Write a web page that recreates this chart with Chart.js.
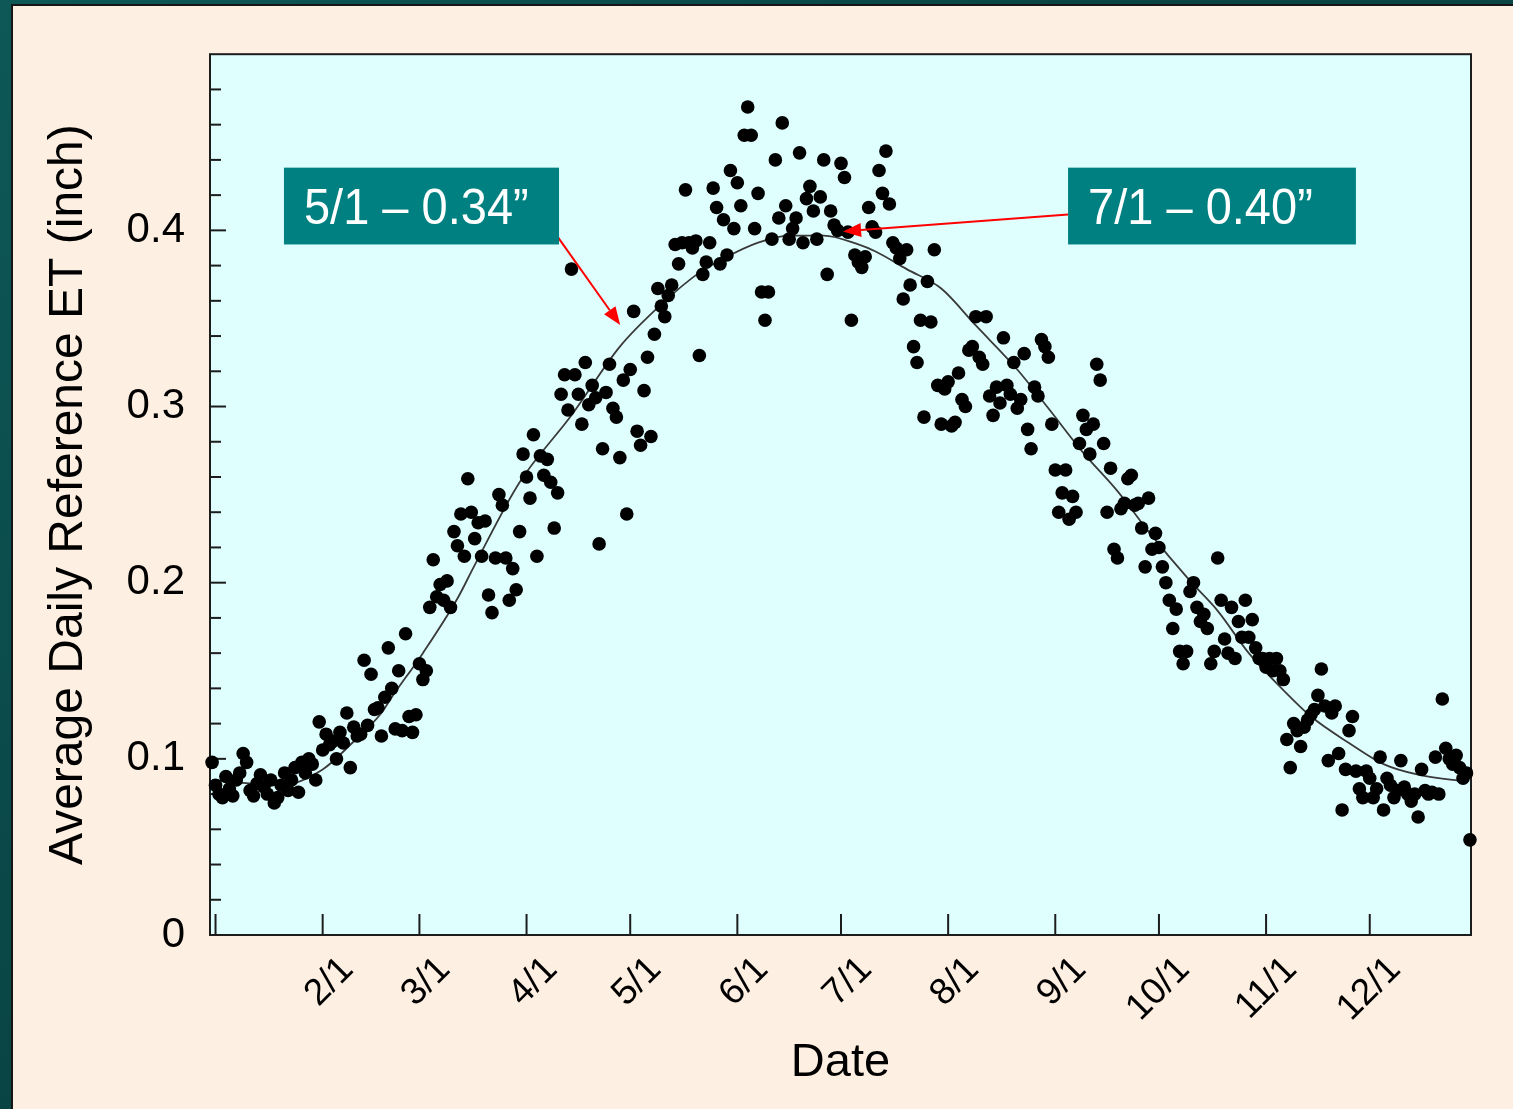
<!DOCTYPE html>
<html><head><meta charset="utf-8">
<script src="https://cdn.jsdelivr.net/npm/chart.js@4.4.1/dist/chart.umd.min.js"></script>
<style>
html,body{margin:0;padding:0;width:1513px;height:1109px;overflow:hidden;background:linear-gradient(135deg,#0e5858 0%,#094343 45%,#0c4e4e 100%);}
#panel{position:absolute;left:11px;top:4px;width:1502px;height:1105px;background:#FDEFE2;border-left:2px solid #161616;border-top:2px solid #161616;box-sizing:border-box;}
#c{position:absolute;left:11px;top:4px;}
</style></head><body>
<div id="panel"></div>
<canvas id="c" width="1502" height="1105"></canvas>
<script>
// ---- data (daily average reference ET, inch), one array per month ----
const jan = [0.098,0.085,0.080,0.078,0.090,0.083,0.079,0.088,0.092,0.103,0.098,0.082,0.079,0.086,0.091,0.084,0.080,0.088,0.075,0.078,0.085,0.092,0.082,0.088,0.095,0.081,0.098,0.092,0.100,0.097,0.088];
const feb = [0.121,0.105,0.114,0.108,0.110,0.100,0.115,0.109,0.126,0.095,0.118,0.113,0.114,0.156,0.119,0.148,0.128,0.129,0.113,0.135,0.163,0.140,0.117,0.150,0.116,0.171,0.124,0.115];
const mar = [0.125,0.154,0.145,0.150,0.186,0.213,0.192,0.199,0.190,0.201,0.186,0.229,0.221,0.239,0.215,0.259,0.240,0.225,0.234,0.215,0.235,0.193,0.183,0.214,0.250,0.244,0.214,0.190,0.208,0.196,0.229];
const apr = [0.273,0.260,0.248,0.284,0.215,0.272,0.261,0.270,0.257,0.231,0.251,0.307,0.318,0.298,0.378,0.318,0.307,0.290,0.325,0.301,0.312,0.305,0.222,0.276,0.308,0.324,0.299,0.294,0.271,0.315];
const may = [0.239,0.321,0.354,0.286,0.278,0.309,0.328,0.283,0.341,0.367,0.357,0.351,0.363,0.369,0.392,0.381,0.393,0.423,0.393,0.390,0.394,0.329,0.375,0.382,0.393,0.424,0.413,0.381,0.406,0.386,0.434];
const jun = [0.401,0.427,0.414,0.454,0.470,0.454,0.401,0.421,0.365,0.349,0.365,0.395,0.440,0.407,0.461,0.414,0.395,0.401,0.407,0.444,0.393,0.418,0.425,0.411,0.395,0.419,0.440,0.375,0.411,0.403];
const jul = [0.400,0.438,0.430,0.399,0.349,0.386,0.382,0.379,0.385,0.413,0.402,0.399,0.434,0.421,0.445,0.415,0.393,0.390,0.384,0.361,0.389,0.369,0.334,0.325,0.349,0.294,0.371,0.348,0.389,0.312,0.290];
const aug = [0.310,0.314,0.289,0.291,0.319,0.304,0.300,0.332,0.334,0.351,0.328,0.324,0.351,0.306,0.295,0.311,0.302,0.339,0.312,0.307,0.325,0.299,0.304,0.330,0.287,0.276,0.311,0.306,0.338,0.334,0.328];
const sep = [0.290,0.264,0.240,0.251,0.264,0.236,0.249,0.240,0.279,0.295,0.287,0.273,0.290,0.324,0.315,0.279,0.240,0.265,0.219,0.214,0.242,0.245,0.259,0.261,0.244,0.245,0.231,0.209,0.248,0.219];
const oct = [0.228,0.220,0.209,0.200,0.190,0.174,0.185,0.161,0.154,0.161,0.195,0.200,0.186,0.178,0.182,0.174,0.154,0.161,0.214,0.190,0.168,0.160,0.186,0.157,0.178,0.169,0.190,0.169,0.179,0.163,0.157];
const nov = [0.157,0.152,0.157,0.150,0.157,0.150,0.145,0.111,0.095,0.120,0.116,0.107,0.118,0.122,0.125,0.128,0.136,0.151,0.130,0.099,0.126,0.130,0.103,0.071,0.094,0.116,0.124,0.093,0.083,0.078];
const dec = [0.093,0.089,0.078,0.083,0.101,0.071,0.089,0.085,0.078,0.082,0.099,0.084,0.080,0.076,0.080,0.067,0.094,0.082,0.080,0.081,0.101,0.080,0.134,0.106,0.100,0.097,0.102,0.095,0.089,0.092,0.054];

// fitted seasonal curve (day index, inch)
const fitDays   = [0,20,32,40,49,52,61,71,76,89,104,118,130,141,148,158,167,177,187,192,201,211,221,233,242,252,262,271,283,291,300,310,318,329,339,349,363];
const fitValues = [0.088,0.085,0.094,0.108,0.126,0.135,0.160,0.191,0.210,0.257,0.295,0.334,0.358,0.376,0.384,0.393,0.397,0.397,0.392,0.388,0.378,0.367,0.346,0.321,0.299,0.274,0.252,0.229,0.201,0.184,0.160,0.139,0.124,0.109,0.097,0.091,0.087];

// axis ticks
const tickDays   = [1,32,60,91,121,152,182,213,244,274,305,335];
const tickLabels = ['','2/1','3/1','4/1','5/1','6/1','7/1','8/1','9/1','10/1','11/1','12/1'];
const yTickValues = [0,0.1,0.2,0.3,0.4];
const yTickLabels = ['0','0.1','0.2','0.3','0.4'];

// callouts
const callouts = [
  {text:'5/1 \u2013 0.34\u201D', x0:20.8, x1:100.4, yTop:0.4356, yBot:0.392, from:[99.5,0.3977], to:[118.1,0.3463]},
  {text:'7/1 \u2013 0.40\u201D', x0:247.7, x1:331.0, yTop:0.4356, yBot:0.392, from:[247.7,0.409], to:[182.6,0.3994]}
];

const etValues = [].concat(jan,feb,mar,apr,may,jun,jul,aug,sep,oct,nov,dec);
const scatterData = etValues.map((v,i)=>({x:i,y:v}));
const fitData = fitDays.map((d,i)=>({x:d,y:fitValues[i]}));

const SANS = '"Liberation Sans", Arial, sans-serif';

const plotBg = {
  id:'plotBg',
  beforeDraw(chart){
    const {ctx, chartArea:a} = chart;
    ctx.save(); ctx.fillStyle='#DFFFFF';
    ctx.fillRect(a.left,a.top,a.right-a.left,a.bottom-a.top); ctx.restore();
  },
  beforeDatasetsDraw(chart){
    const {ctx, chartArea:a, scales:{x,y}} = chart;
    ctx.save();
    ctx.strokeStyle='#1c1c1c'; ctx.lineWidth=2;
    for(let i=1;i<25;i++){
      const py=y.getPixelForValue(i*0.02);
      const len=(i%5===0)?16:11;
      ctx.beginPath(); ctx.moveTo(a.left,py); ctx.lineTo(a.left+len,py); ctx.stroke();
    }
    tickDays.forEach(d=>{
      const px=x.getPixelForValue(d);
      ctx.beginPath(); ctx.moveTo(px,a.bottom); ctx.lineTo(px,a.bottom-21); ctx.stroke();
    });
    ctx.strokeRect(a.left,a.top,a.right-a.left,a.bottom-a.top);
    ctx.restore();
  }
};

const notesPlugin = {
  id:'notes',
  afterDraw(chart){
    const {ctx, scales:{x,y}} = chart;
    ctx.save();
    callouts.forEach(n=>{
      const L=x.getPixelForValue(n.x0), R=x.getPixelForValue(n.x1);
      const T=y.getPixelForValue(n.yTop), B=y.getPixelForValue(n.yBot);
      const sx=x.getPixelForValue(n.from[0]), sy=y.getPixelForValue(n.from[1]);
      const tx=x.getPixelForValue(n.to[0]), ty=y.getPixelForValue(n.to[1]);
      const ang=Math.atan2(ty-sy,tx-sx), hl=18, hw=7;
      ctx.strokeStyle='#FF0000'; ctx.fillStyle='#FF0000'; ctx.lineWidth=2;
      ctx.beginPath(); ctx.moveTo(sx,sy);
      ctx.lineTo(tx-hl*Math.cos(ang), ty-hl*Math.sin(ang)); ctx.stroke();
      ctx.beginPath(); ctx.moveTo(tx,ty);
      ctx.lineTo(tx-hl*Math.cos(ang)+hw*Math.sin(ang), ty-hl*Math.sin(ang)-hw*Math.cos(ang));
      ctx.lineTo(tx-hl*Math.cos(ang)-hw*Math.sin(ang), ty-hl*Math.sin(ang)+hw*Math.cos(ang));
      ctx.closePath(); ctx.fill();
      ctx.fillStyle='#008080'; ctx.fillRect(L,T,R-L,B-T);
      ctx.save();
      ctx.fillStyle='#FFFFFF'; ctx.font='47px '+SANS;
      ctx.textBaseline='alphabetic'; ctx.textAlign='left';
      ctx.translate(L+20, T+(B-T)*0.74); ctx.scale(1,1.05);
      ctx.fillText(n.text, 0, 0);
      ctx.restore();
    });
    ctx.restore();
  }
};

new Chart(document.getElementById('c'), {
  data:{
    datasets:[
      {type:'scatter', data:scatterData, pointRadius:6.8, pointBackgroundColor:'#000', pointBorderColor:'#000', pointBorderWidth:0, pointStyle:'circle', clip:false},
      {type:'line', data:fitData, borderColor:'#3a3a3a', borderWidth:1.8, pointRadius:0, cubicInterpolationMode:'monotone', fill:false}
    ]
  },
  options:{
    responsive:false, animation:false, devicePixelRatio:1, events:[],
    layout:{padding:{top:47,right:42,left:0,bottom:0}},
    plugins:{legend:{display:false}, tooltip:{enabled:false}},
    scales:{
      x:{type:'linear', position:'bottom', min:-0.6, max:364.3,
        afterFit(s){ s.height=174; },
        afterBuildTicks(s){ s.ticks = tickDays.map(v=>({value:v})); },
        grid:{display:false, drawTicks:false}, border:{display:false},
        ticks:{autoSkip:false, maxRotation:45, minRotation:45, padding:13, labelOffset:25,
          font:{family:SANS, size:37}, color:'#000',
          callback(v){ const i=tickDays.indexOf(v); return i>=0?tickLabels[i]:''; }},
        title:{display:true, text:'Date', color:'#000', font:{family:SANS, size:47},
          padding:{bottom:18}}
      },
      y:{type:'linear', min:0, max:0.5,
        afterFit(s){ s.width=199; },
        afterBuildTicks(s){ s.ticks = yTickValues.map(v=>({value:v})); },
        grid:{display:false, drawTicks:false}, border:{display:false},
        ticks:{padding:25, font:{family:SANS, size:42}, color:'#000',
          callback(v){ const i=yTickValues.indexOf(v); return i>=0?yTickLabels[i]:''; }},
        title:{display:true, text:'Average Daily Reference ET (inch)', color:'#000',
          font:{family:SANS, size:48}, padding:{top:29}}
      }
    }
  },
  plugins:[plotBg, notesPlugin]
});
</script>
</body></html>
